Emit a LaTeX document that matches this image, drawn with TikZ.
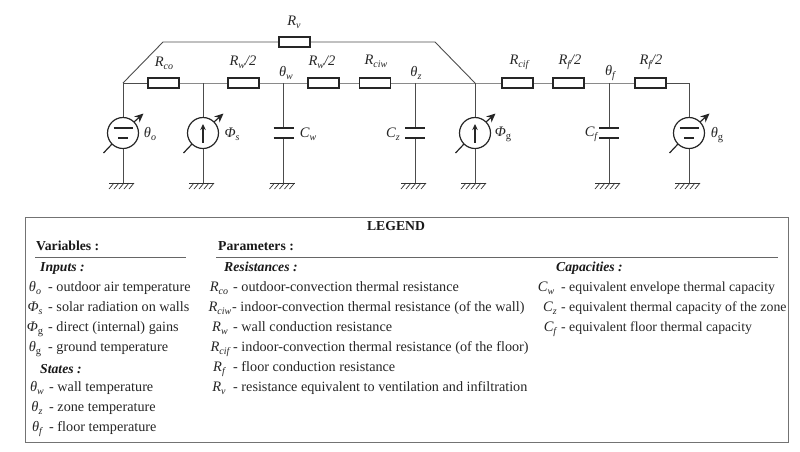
\documentclass[tikz,border=0pt]{standalone}
\usepackage{fontspec}
\setmainfont{Liberation Serif}
\usetikzlibrary{arrows.meta}
\newcommand{\sym}[2]{\textit{#1\raisebox{-0.22em}{\fontsize{10}{10}\selectfont #2}}}
\newcommand{\symg}[1]{\textit{#1}\raisebox{-0.22em}{\fontsize{10.5}{10}\selectfont g}}
\definecolor{wirec}{gray}{0.3}
\tikzset{
  x=1pt,y=-1pt,
  wire/.style={draw=wirec,line width=0.9pt},
  res/.style={draw=black!85,line width=1.3pt,fill=white,rectangle,minimum width=31pt,minimum height=10pt,inner sep=0pt},
  src/.style={draw=black!85,line width=1.2pt,fill=white,circle,minimum size=31pt,inner sep=0pt},
  plate/.style={draw=black!85,line width=1.4pt},
  lab/.style={font=\fontsize{14.5}{16}\selectfont,inner sep=0pt,text=black!85},
  txt/.style={font=\fontsize{14.2}{15}\selectfont,inner sep=0pt,anchor=base west,text=black!85},
  txtc/.style={font=\fontsize{13.8}{15}\selectfont,inner sep=0pt,anchor=base west,text=black!85},
  symb/.style={font=\fontsize{14.5}{15}\selectfont,inner sep=0pt,anchor=base,text=black!85},
  hd/.style={font=\fontsize{13.7}{15}\selectfont\bfseries,inner sep=0pt,anchor=base west,text=black!90},
  hdi/.style={font=\fontsize{13.7}{15}\selectfont\bfseries\itshape,inner sep=0pt,anchor=base west,text=black!90},
  rule/.style={draw=black!60,line width=1pt},
  gear/.style={draw=black!85,line width=1.2pt,-{Stealth[length=9pt,width=8pt]}},
  gearl/.style={draw=black!85,line width=1.2pt}
}
% ground symbol at a named coordinate
\newcommand{\gndsym}[1]{%
  \draw[line width=0.8pt,black!80] ([xshift=-14pt]#1.center) -- ([xshift=11pt]#1.center);
  \foreach \d in {-9,-4,1,6,11}{
    \draw[line width=0.7pt,black!80] ([xshift=\d pt]#1.center) -- ([xshift=\d pt-5pt,yshift=-6pt]#1.center);
  }}
% adjustment arrow through a source, hidden inside the circle
\newcommand{\adj}[1]{%
  \coordinate (#1a) at ([xshift=-19.5pt,yshift=-20pt]#1.center);
  \coordinate (#1c) at ([xshift=-11pt,yshift=-11pt]#1.center);
  \coordinate (#1d) at ([xshift=11pt,yshift=11pt]#1.center);
  \coordinate (#1b) at ([xshift=20.5pt,yshift=19.5pt]#1.center);
  \draw[gearl] (#1a) -- (#1c);
  \draw[gear] (#1d) -- (#1b);}
% voltage source bars
\newcommand{\vbars}[1]{%
  \draw[line width=1.4pt,black!85] ([xshift=-9.5pt,yshift=5pt]#1.center) -- ([xshift=9.5pt,yshift=5pt]#1.center);
  \draw[line width=1.4pt,black!85] ([xshift=-5pt,yshift=-5pt]#1.center) -- ([xshift=5pt,yshift=-5pt]#1.center);}
% current source arrow
\newcommand{\iarrow}[1]{%
  \draw[line width=1.2pt,black!85,-{Stealth[length=6pt,width=5.5pt]}] ([yshift=-9.5pt]#1.center) -- ([yshift=9pt]#1.center);}
% capacitor between junction and ground
\newcommand{\capa}[3]{%
  \coordinate (#1t) at (#2,128);
  \coordinate (#1l) at (#2,138);
  \coordinate (#1g) at (#2,183);
  \draw[wire] (#3) -- (#1t);
  \draw[wire] (#1l) -- (#1g);
  \draw[plate] ([xshift=-10pt]#1t) -- ([xshift=10pt]#1t);
  \draw[plate] ([xshift=-10pt]#1l) -- ([xshift=10pt]#1l);
  \node[coordinate] (#1gn) at (#1g) {};
  \gndsym{#1gn}}
\begin{document}
\begin{tikzpicture}
\useasboundingbox (0,0) rectangle (800,451);
% junctions
\coordinate (jl) at (123,83);
\coordinate (js) at (203,83);
\coordinate (jw) at (283.5,83);
\coordinate (jz) at (415,83);
\coordinate (jr) at (475,83);
\coordinate (jf) at (609,83);
\coordinate (je) at (689,83);
\coordinate (tl) at (163,42);
\coordinate (tr) at (435,42);
% wires behind components
\draw[wire] (jl) -- (js) -- (jw) -- (jz) -- (jr) -- (jf) -- (je);
\draw[wire] (jl) -- (tl) -- (tr) -- (jr);
% resistors
\node[res] (rv) at (294.5,42) {};
\node[res] (rco) at (163.5,83) {};
\node[res] (rw1) at (243.5,83) {};
\node[res] (rw2) at (323.5,83) {};
\node[res] (rciw) at (375,83) {};
\node[res] (rcif) at (517.5,83) {};
\node[res] (rf1) at (568.5,83) {};
\node[res] (rf2) at (650.5,83) {};
% sources
\node[src] (so) at (123,133) {};
\node[src] (ss) at (203,133) {};
\node[src] (sg) at (475,133) {};
\node[src] (se) at (689,133) {};
\coordinate (gl) at (123,183);
\coordinate (gs) at (203,183);
\coordinate (gr) at (475,183);
\coordinate (ge) at (689,183);
\draw[wire] (jl) -- (so); \draw[wire] (so) -- (gl);
\draw[wire] (js) -- (ss); \draw[wire] (ss) -- (gs);
\draw[wire] (jr) -- (sg); \draw[wire] (sg) -- (gr);
\draw[wire] (je) -- (se); \draw[wire] (se) -- (ge);
\vbars{so}\vbars{se}\iarrow{ss}\iarrow{sg}
\adj{so}\adj{ss}\adj{sg}\adj{se}
\gndsym{gl}\gndsym{gs}\gndsym{gr}\gndsym{ge}
\capa{cw}{283.5}{jw}
\capa{cz}{415}{jz}
\capa{cf}{609}{jf}
% circuit labels
\node[lab] (lrv) at (294,22) {\sym{R}{v}};
\node[lab] (lrco) at (164,63) {\sym{R}{co}};
\node[lab] (lrw1) at (243,62) {\sym{R}{w}\textit{/2}};
\node[lab] (ltw) at (286,73) {\sym{θ}{w}};
\node[lab] (lrw2) at (322,62) {\sym{R}{w}\textit{/2}};
\node[lab] (lrciw) at (376,61) {\sym{R}{ciw}};
\node[lab] (ltz) at (416,73) {\sym{θ}{z}};
\node[lab] (lrcif) at (519,62) {\sym{R}{cif}};
\node[lab] (lrf1) at (570,62) {\sym{R}{f}\textit{/2}};
\node[lab] (ltf) at (610,73) {\sym{θ}{f}};
\node[lab] (lrf2) at (651,62) {\sym{R}{f}\textit{/2}};
\node[lab] (lto) at (150,134) {\sym{θ}{o}};
\node[lab] (lps) at (232,134) {\sym{Φ}{s}};
\node[lab] (lcw) at (308,134) {\sym{C}{w}};
\node[lab] (lcz) at (393,134) {\sym{C}{z}};
\node[lab] (lpg) at (503,134) {\symg{Φ}};
\node[lab] (lcf) at (591,134) {\sym{C}{f}};
\node[lab] (ltg) at (717,135) {\symg{θ}};
% legend
\node[draw=black!55,line width=1pt,rectangle,minimum width=763pt,minimum height=225pt,inner sep=0pt] (box) at (406.5,329.5) {};
\node[hd,anchor=base] (leg) at (396,230) {LEGEND};
\node[hd] (hv) at (36,250) {Variables :};
\node[hd] (hp) at (218,250) {Parameters :};
\coordinate (r1a) at (35,257); \coordinate (r1b) at (186,257);
\coordinate (r2a) at (216,257); \coordinate (r2b) at (778,257);
\draw[rule] (r1a) -- (r1b);
\draw[rule] (r2a) -- (r2b);
\node[hdi] (hi) at (40,271) {Inputs :};
\node[hdi] (hr) at (224,271) {Resistances :};
\node[hdi] (hc) at (556,271) {Capacities :};
% variables
\node[symb] (a1) at (35,291) {\sym{θ}{o}};  \node[txt] (at1) at (48,291) {- outdoor air temperature};
\node[symb] (a2) at (35,311) {\sym{Φ}{s}};  \node[txt] (at2) at (48,311) {- solar radiation on walls};
\node[symb] (a3) at (35,331) {\symg{Φ}}; \node[txt] (at3) at (48,331) {- direct (internal) gains};
\node[symb] (a4) at (35,351) {\symg{θ}}; \node[txt] (at4) at (48,351) {- ground temperature};
\node[hdi] (hs) at (40,373) {States :};
\node[symb] (b1) at (37,391) {\sym{θ}{w}}; \node[txt] (bt1) at (49,391) {- wall temperature};
\node[symb] (b2) at (37,411) {\sym{θ}{z}}; \node[txt] (bt2) at (49,411) {- zone temperature};
\node[symb] (b3) at (37,431) {\sym{θ}{f}}; \node[txt] (bt3) at (49,431) {- floor temperature};
% resistances
\node[symb] (c1) at (219,291) {\sym{R}{co}};  \node[txt] (ct1) at (233,291) {- outdoor-convection thermal resistance};
\node[symb] (c2) at (220,311) {\sym{R}{ciw}}; \node[txt] (ct2) at (232,311) {- indoor-convection thermal resistance (of the wall)};
\node[symb] (c3) at (220,331) {\sym{R}{w}};   \node[txt] (ct3) at (233,331) {- wall conduction resistance};
\node[symb] (c4) at (220,351) {\sym{R}{cif}}; \node[txt] (ct4) at (233,351) {- indoor-convection thermal resistance (of the floor)};
\node[symb] (c5) at (219,371) {\sym{R}{f}};   \node[txt] (ct5) at (233,371) {- floor conduction resistance};
\node[symb] (c6) at (219,391) {\sym{R}{v}};   \node[txt] (ct6) at (233,391) {- resistance equivalent to ventilation and infiltration};
% capacities
\node[symb] (d1) at (546,291) {\sym{C}{w}}; \node[txtc] (dt1) at (561,291) {- equivalent envelope thermal capacity};
\node[symb] (d2) at (550,311) {\sym{C}{z}}; \node[txtc] (dt2) at (561,311) {- equivalent thermal capacity of the zone};
\node[symb] (d3) at (550,331) {\sym{C}{f}}; \node[txtc] (dt3) at (561,331) {- equivalent floor thermal capacity};
\end{tikzpicture}
\end{document}
